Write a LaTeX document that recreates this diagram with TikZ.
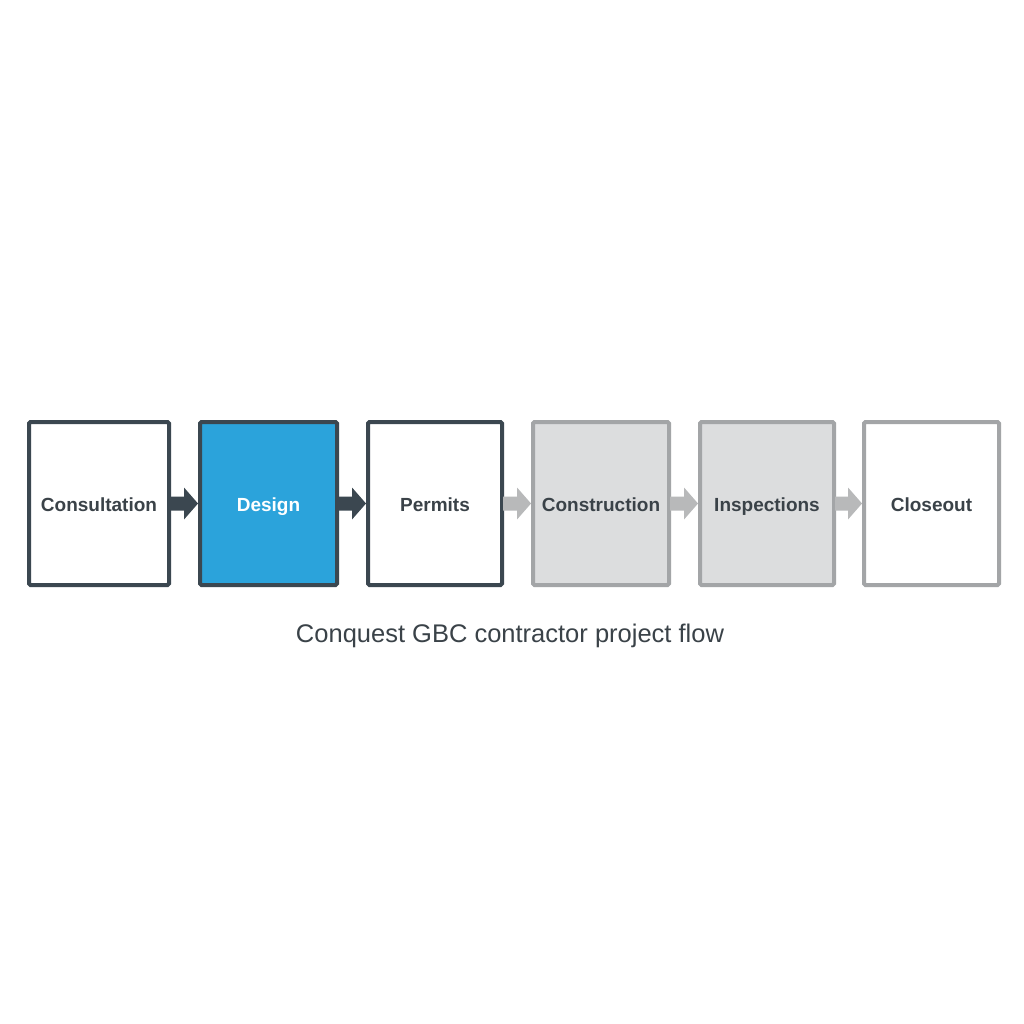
\documentclass[tikz,border=0pt]{standalone}
\usepackage{fontspec}
\setmainfont{Liberation Sans}
\usetikzlibrary{calc}
\definecolor{dark}{HTML}{3B4750}
\definecolor{blueF}{HTML}{2BA3DB}
\definecolor{grayB}{HTML}{A3A5A7}
\definecolor{grayF}{HTML}{DCDDDE}
\definecolor{grayA}{HTML}{B8B9BA}
\definecolor{txt}{HTML}{3A4248}
\tikzset{
  stage/.style={draw, line width=4pt, rounded corners=1.5pt, minimum height=163pt, inner sep=0pt, text height=16pt, text depth=1pt, font=\bfseries\fontsize{19}{22}\selectfont, text=txt},
  done/.style={stage, draw=dark, fill=white},
  current/.style={stage, draw=dark, fill=blueF, text=white},
  todo/.style={stage, draw=grayB, fill=grayF},
  last/.style={stage, draw=grayB, fill=white},
}
\newcommand{\blockarrow}[3]{%
  \fill[#3] ($(#1.east)+(-1,7)$) -- ($(#2.west)+(-14,7)$) -- ($(#2.west)+(-14,16)$) -- (#2.west) -- ($(#2.west)+(-14,-16)$) -- ($(#2.west)+(-14,-7)$) -- ($(#1.east)+(-1,-7)$) -- cycle;}
\begin{document}
\begin{tikzpicture}[x=1pt,y=-1pt]
\useasboundingbox[fill=white] (0,0) rectangle (1024,1024);
\node[done, minimum width=140pt] (n1) at (99,503.5) {Consultation};
\node[current, minimum width=137pt] (n2) at (268.5,503.5) {Design};
\node[done, minimum width=134pt] (n3) at (435,503.5) {Permits};
\node[todo, minimum width=136pt] (n4) at (601,503.5) {Construction};
\node[todo, minimum width=134pt] (n5) at (767,503.5) {Inspections};
\node[last, minimum width=135pt] (n6) at (931.5,503.5) {Closeout};
\blockarrow{n1}{n2}{dark}
\blockarrow{n2}{n3}{dark}
\blockarrow{n3}{n4}{grayA}
\blockarrow{n4}{n5}{grayA}
\blockarrow{n5}{n6}{grayA}
\node[font=\fontsize{25.5}{30}\selectfont, text=txt] (cap) at (510,636) {Conquest GBC contractor project flow};
\end{tikzpicture}
\end{document}
